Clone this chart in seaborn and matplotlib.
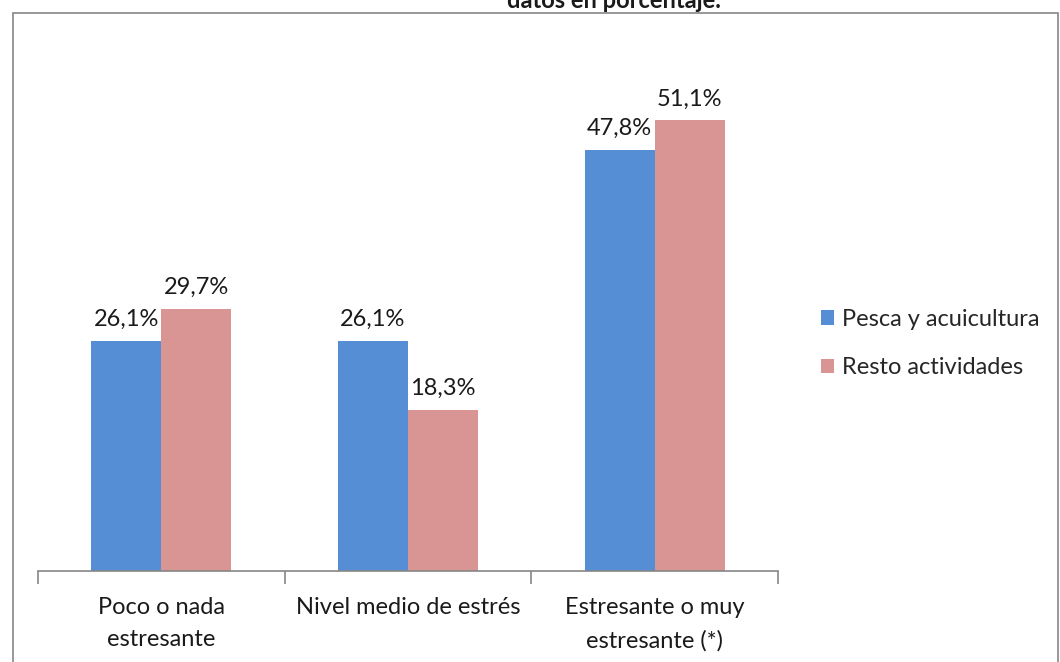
import numpy as np
import pandas as pd
import seaborn as sns
import matplotlib.pyplot as plt
from matplotlib.patches import Rectangle

categories = ['Poco o nada\nestresante', 'Nivel medio de estrés', 'Estresante o muy\nestresante (*)']
series = ['Pesca y acuicultura', 'Resto actividades']
pesca = [26.1, 26.1, 47.8]
resto = [29.7, 18.3, 51.1]
colors = ['#558ED5', '#D99594']

df = pd.DataFrame({
    'cat': categories * 2,
    'serie': [series[0]] * 3 + [series[1]] * 3,
    'valor': pesca + resto,
})

sns.set_theme(style='white')
plt.rcParams['font.family'] = ['Lato', 'DejaVu Sans']

fig = plt.figure(figsize=(10.6, 6.62), dpi=100)
ax = fig.add_axes([38 / 1060, 1 - 571 / 662, 740 / 1060, 529 / 662])

sns.barplot(data=df, x='cat', y='valor', hue='serie', palette=colors,
            width=0.567, saturation=1, ax=ax, edgecolor='none')

ax.set_ylim(0, 60)
ax.set_xlim(-0.5, 2.5)

# etiquetas de datos
for cont in ax.containers:
    labels = [('%.1f%%' % v).replace('.', ',') for v in cont.datavalues]
    ax.bar_label(cont, labels=labels, padding=8, fontsize=17, color='#1a1a1a')

for s in ['top', 'right', 'left']:
    ax.spines[s].set_visible(False)
ax.spines['bottom'].set_color('#868686')
ax.spines['bottom'].set_linewidth(1.2)
ax.set_yticks([])
ax.set_xlabel('')
ax.set_ylabel('')

ax.set_xticks([-0.5, 0.5, 1.5, 2.5], minor=True)
ax.tick_params(axis='x', which='minor', length=9, width=1.2, color='#868686', bottom=True)
ax.tick_params(axis='x', which='major', length=0, pad=19, labelsize=17, labelcolor='#1a1a1a')
for t in ax.get_xticklabels():
    t.set_linespacing(1.65)

leg = ax.legend(loc='center left', bbox_to_anchor=(1.03, 0.43), frameon=False,
                fontsize=17, handlelength=0.55, handleheight=0.55, handletextpad=0.3,
                labelspacing=1.15)

# marco del gráfico
fig.patches.append(Rectangle((13 / 1060, -0.1), 1045 / 1060, 1 - 13 / 662 + 0.1,
                             transform=fig.transFigure, fill=False,
                             edgecolor='#868686', linewidth=1.2))

fig.text(614 / 1060, 1 - 8 / 662, 'datos en porcentaje.', ha='center', va='baseline',
         fontsize=17, fontweight='bold', color='#1a1a1a')

fig.savefig('out.png', dpi=100)
